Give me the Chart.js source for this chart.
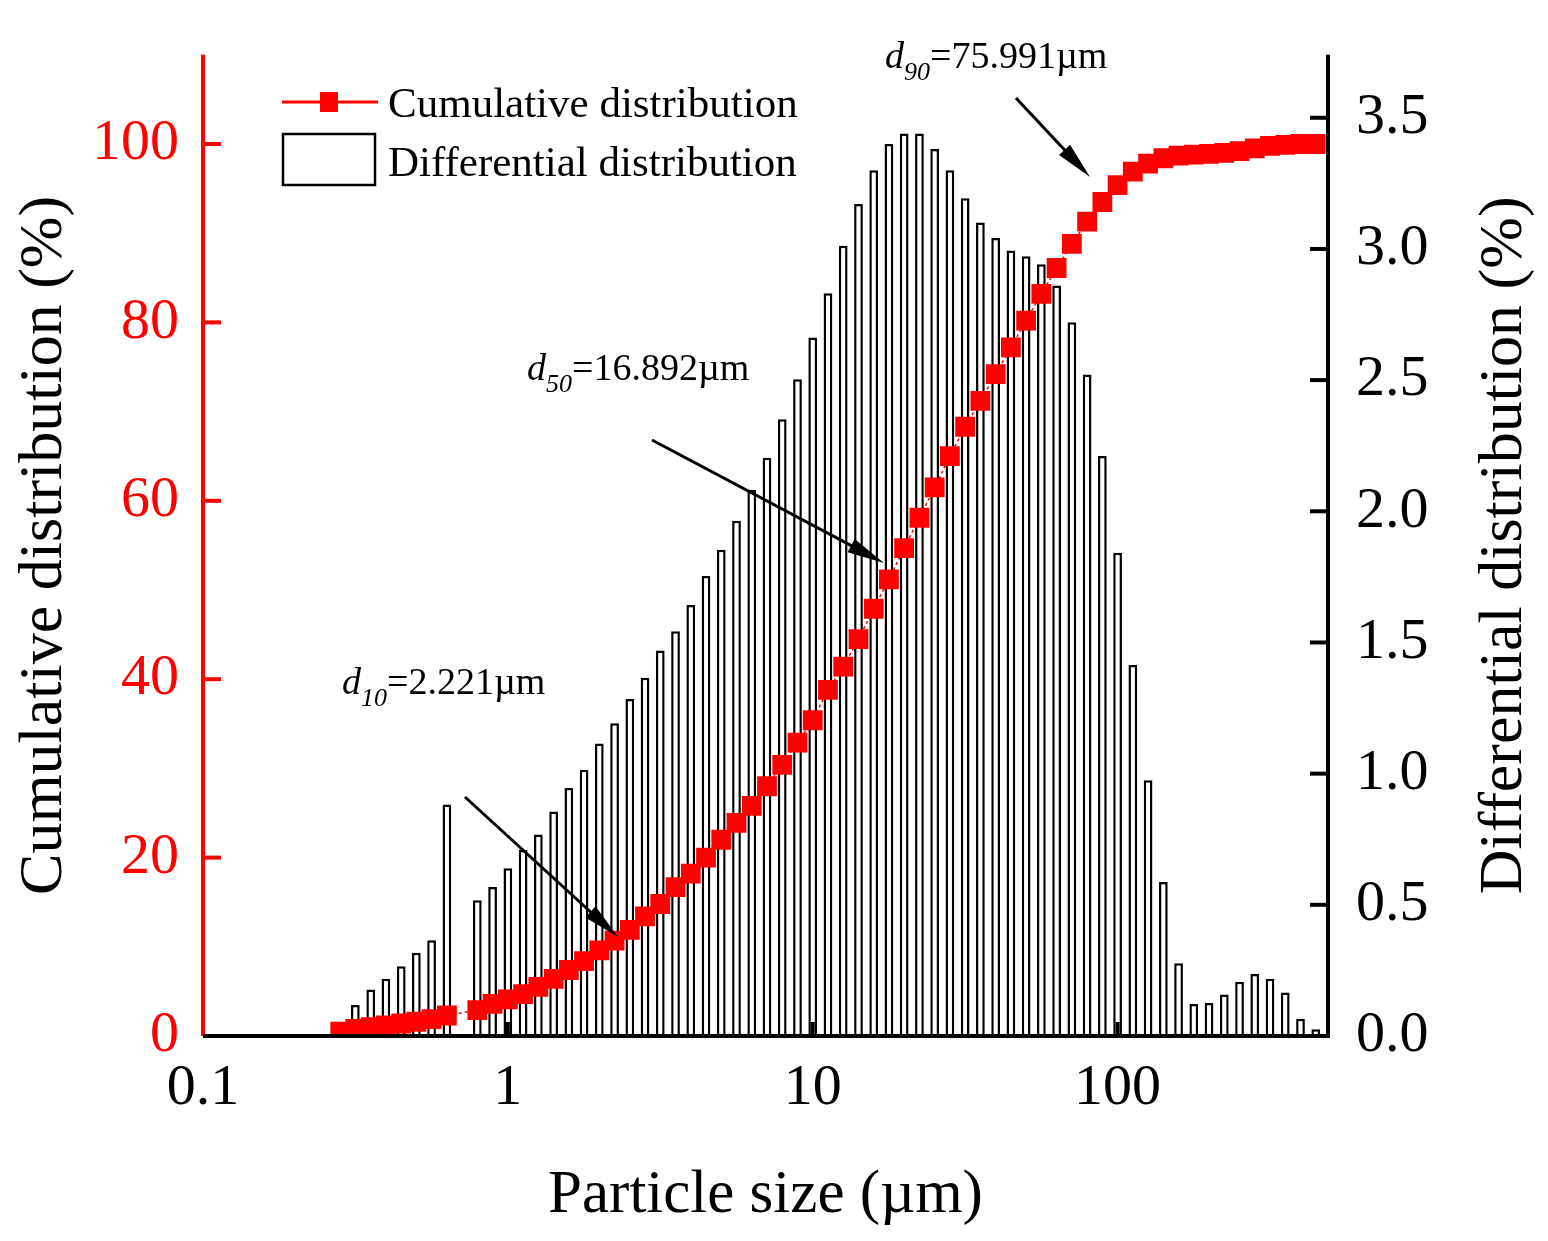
<!DOCTYPE html>
<html>
<head>
<meta charset="utf-8">
<script src="https://cdn.jsdelivr.net/npm/chart.js@4.4.0/dist/chart.umd.min.js"></script>
<style>
  html, body { margin: 0; padding: 0; background: #fff; }
  #wrap { width: 1548px; height: 1241px; }
</style>
</head>
<body>
<div id="wrap"><canvas id="psd"></canvas></div>
<script>
'use strict';

// ---------------------------------------------------------------------------
// Data
// ---------------------------------------------------------------------------

const sizes = [
    0.282, 0.316, 0.355, 0.398, 0.447, 0.501, 0.562, 0.631, 0.708, 0.794,
    0.891, 1.000, 1.122, 1.259, 1.413, 1.585, 1.778, 1.995, 2.239, 2.512,
    2.818, 3.162, 3.548, 3.981, 4.467, 5.012, 5.623, 6.310, 7.079, 7.943,
    8.913, 10.00, 11.22, 12.59, 14.13, 15.85, 17.78, 19.95, 22.39, 25.12,
    28.18, 31.62, 35.48, 39.81, 44.67, 50.12, 56.23, 63.10, 70.79, 79.43,
    89.13, 100.0, 112.2, 125.9, 141.3, 158.5, 177.8, 199.5, 223.9, 251.2,
    281.8, 316.2, 354.8, 398.1, 446.7
];

const differential = [
    0.037, 0.118, 0.177, 0.218, 0.266, 0.317, 0.365, 0.882, 0, 0.517,
    0.568, 0.639, 0.709, 0.768, 0.856, 0.945, 1.015, 1.115, 1.192, 1.285,
    1.366, 1.469, 1.543, 1.643, 1.753, 1.853, 1.964, 2.082, 2.204, 2.351,
    2.503, 2.662, 2.831, 3.012, 3.171, 3.300, 3.400, 3.440, 3.440, 3.381,
    3.300, 3.193, 3.101, 3.042, 2.994, 2.972, 2.942, 2.861, 2.721, 2.521,
    2.211, 1.842, 1.414, 0.975, 0.587, 0.277, 0.122, 0.126, 0.158, 0.207,
    0.236, 0.218, 0.166, 0.066, 0.026
];

const cumulative = [
    0.5, 0.8, 1.0, 1.2, 1.4, 1.6, 1.9, 2.3, null, 2.9,
    3.6, 4.1, 4.7, 5.5, 6.4, 7.4, 8.4, 9.6, 10.7, 11.9,
    13.4, 14.8, 16.7, 18.2, 20.0, 22.0, 23.9, 25.8, 28.0, 30.4,
    32.9, 35.4, 38.8, 41.4, 44.5, 47.9, 51.2, 54.7, 58.1, 61.5,
    65.0, 68.3, 71.2, 74.2, 77.2, 80.2, 83.2, 86.1, 88.8, 91.3,
    93.5, 95.4, 96.9, 97.8, 98.4, 98.7, 98.8, 98.9, 99.0, 99.2,
    99.5, 99.8, 99.9, 100, 100
];

const xTicks = [0.1, 1, 10, 100];
const leftTicks = [0, 20, 40, 60, 80, 100];
const rightTicks = [0, 0.5, 1.0, 1.5, 2.0, 2.5, 3.0, 3.5];

const FONT = "'Liberation Serif', 'Times New Roman', serif";
const RED = '#ff0000';

// ---------------------------------------------------------------------------
// Plugins: inward tick marks, legend, annotations
// ---------------------------------------------------------------------------

const tickMarks = {
    id: 'tickMarks',
    afterDatasetsDraw(chart) {
        const { ctx, chartArea: a, scales } = chart;
        ctx.save();
        ctx.lineWidth = 4;
        ctx.strokeStyle = '#000';
        xTicks.forEach(v => {
            const px = scales.x.getPixelForValue(v);
            ctx.beginPath(); ctx.moveTo(px, a.bottom); ctx.lineTo(px, a.bottom - 14); ctx.stroke();
        });
        rightTicks.forEach(v => {
            const py = scales.y1.getPixelForValue(v);
            ctx.beginPath(); ctx.moveTo(a.right, py); ctx.lineTo(a.right - 18, py); ctx.stroke();
        });
        ctx.strokeStyle = RED;
        leftTicks.forEach(v => {
            const py = scales.y.getPixelForValue(v);
            ctx.beginPath(); ctx.moveTo(a.left, py); ctx.lineTo(a.left + 18, py); ctx.stroke();
        });
        // axis lines
        ctx.beginPath(); ctx.moveTo(a.left, a.top); ctx.lineTo(a.left, a.bottom); ctx.stroke();
        ctx.strokeStyle = '#000';
        ctx.beginPath(); ctx.moveTo(a.left, a.bottom); ctx.lineTo(a.right, a.bottom);
        ctx.lineTo(a.right, a.top); ctx.stroke();
        ctx.restore();
    }
};

function subLabel(ctx, x, y, sub, rest) {
    ctx.font = 'italic 38px ' + FONT;
    ctx.fillText('d', x, y);
    let w = ctx.measureText('d').width;
    ctx.font = 'italic 26px ' + FONT;
    ctx.fillText(sub, x + w, y + 12);
    w += ctx.measureText(sub).width;
    ctx.font = '38px ' + FONT;
    ctx.fillText(rest, x + w, y);
}

function arrow(ctx, x1, y1, x2, y2) {
    const ang = Math.atan2(y2 - y1, x2 - x1);
    ctx.beginPath(); ctx.moveTo(x1, y1); ctx.lineTo(x2 - 20 * Math.cos(ang), y2 - 20 * Math.sin(ang)); ctx.stroke();
    ctx.beginPath();
    ctx.moveTo(x2, y2);
    ctx.lineTo(x2 - 38 * Math.cos(ang - 0.2), y2 - 38 * Math.sin(ang - 0.2));
    ctx.lineTo(x2 - 38 * Math.cos(ang + 0.2), y2 - 38 * Math.sin(ang + 0.2));
    ctx.closePath(); ctx.fill();
}

const extras = {
    id: 'extras',
    afterDraw(chart) {
        const { ctx, chartArea: a } = chart;
        ctx.save();
        ctx.textBaseline = 'alphabetic';
        ctx.textAlign = 'left';

        // legend
        ctx.strokeStyle = RED; ctx.lineWidth = 3;
        ctx.beginPath(); ctx.moveTo(282, 102); ctx.lineTo(378, 102); ctx.stroke();
        ctx.fillStyle = RED; ctx.fillRect(320, 92, 18, 20);
        ctx.strokeStyle = '#000'; ctx.lineWidth = 2.5;
        ctx.strokeRect(283, 134, 92, 51);
        ctx.fillStyle = '#000';
        ctx.font = '43px ' + FONT;
        ctx.fillText('Cumulative distribution', 388, 117);
        ctx.fillText('Differential distribution', 388, 176);

        // right axis title, reading bottom to top like the left one
        ctx.save();
        ctx.translate(1505, (a.top + a.bottom) / 2);
        ctx.rotate(-Math.PI / 2);
        ctx.textAlign = 'center';
        ctx.textBaseline = 'middle';
        ctx.font = '62px ' + FONT;
        ctx.fillText('Differential distribution (%)', 0, 0);
        ctx.restore();

        // annotations
        subLabel(ctx, 342, 694, '10', '=2.221\u00b5m');
        subLabel(ctx, 527, 380, '50', '=16.892\u00b5m');
        subLabel(ctx, 885, 68, '90', '=75.991\u00b5m');
        ctx.strokeStyle = '#000';
        ctx.lineWidth = 3;
        arrow(ctx, 465, 797, 618, 937);
        arrow(ctx, 652, 440, 884, 563);
        arrow(ctx, 1016, 98, 1090, 177);
        ctx.restore();
    }
};

// ---------------------------------------------------------------------------
// Chart
// ---------------------------------------------------------------------------

const barData = sizes.map((s, i) => ({ x: s, y: differential[i] }));
const lineData = sizes.map((s, i) => ({ x: s, y: cumulative[i] }));

new Chart(document.getElementById('psd'), {
    data: {
        datasets: [
            {
                type: 'line',
                label: 'Cumulative distribution',
                data: lineData,
                yAxisID: 'y',
                borderColor: RED,
                borderWidth: 1.5,
                borderDash: [3, 3],
                backgroundColor: RED,
                pointStyle: 'rect',
                pointRadius: 14,
                pointBorderWidth: 0,
                spanGaps: true,
                order: 0
            },
            {
                type: 'bar',
                label: 'Differential distribution',
                data: barData,
                yAxisID: 'y1',
                backgroundColor: '#fff',
                borderColor: '#000',
                borderWidth: 2.5,
                categoryPercentage: 1,
                barPercentage: 0.58,
                order: 1
            }
        ]
    },
    options: {
        responsive: true,
        maintainAspectRatio: false,
        animation: false,
        layout: { padding: { top: -8, left: 0, right: 0, bottom: 0 } },
        plugins: { legend: { display: false }, tooltip: { enabled: false } },
        scales: {
            x: {
                type: 'logarithmic',
                min: 0.1,
                max: 490,
                afterBuildTicks: s => { s.ticks = xTicks.map(v => ({ value: v })); },
                afterFit: s => { s.height = 205; },
                grid: { display: false },
                border: { display: false },
                ticks: {
                    color: '#000',
                    font: { family: FONT, size: 58 },
                    padding: 10,
                    maxRotation: 0,
                    callback: v => String(v)
                },
                title: {
                    display: true,
                    text: 'Particle size (\u00b5m)',
                    color: '#000',
                    font: { family: FONT, size: 61 },
                    padding: { top: 20, bottom: 8 }
                }
            },
            y: {
                position: 'left',
                min: 0,
                max: 110,
                afterBuildTicks: s => { s.ticks = leftTicks.map(v => ({ value: v })); },
                afterFit: s => { s.width = 203; },
                grid: { display: false },
                border: { display: false },
                ticks: {
                    color: RED,
                    font: { family: FONT, size: 58 },
                    padding: 16
                },
                title: {
                    display: true,
                    text: 'Cumulative distribution (%)',
                    color: '#000',
                    font: { family: FONT, size: 62 },
                    padding: { top: 8, bottom: 0 }
                }
            },
            y1: {
                position: 'right',
                min: 0,
                max: 3.74,
                afterBuildTicks: s => { s.ticks = rightTicks.map(v => ({ value: v })); },
                afterFit: s => { s.width = 220; },
                grid: { display: false },
                border: { display: false },
                ticks: {
                    color: '#000',
                    font: { family: FONT, size: 58 },
                    padding: 20,
                    callback: v => v.toFixed(1)
                }
            }
        }
    },
    plugins: [tickMarks, extras]
});
</script>
</body>
</html>
